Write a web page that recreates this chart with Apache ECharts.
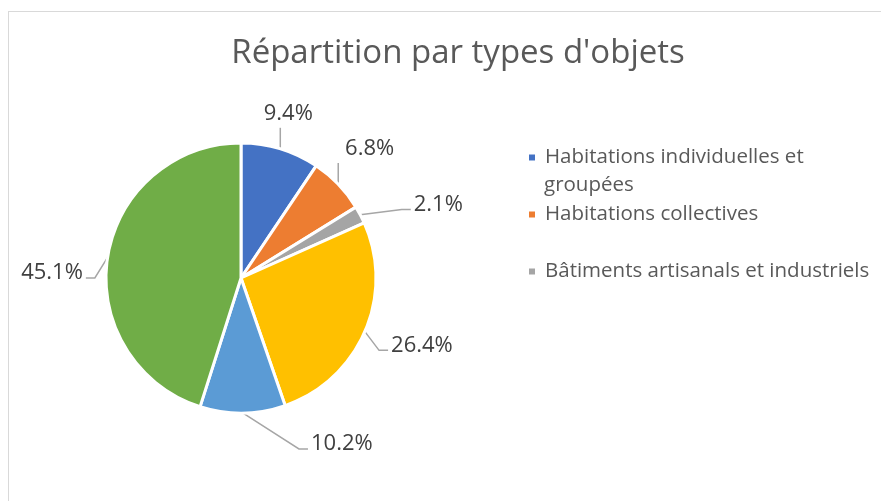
<!DOCTYPE html>
<html>
<head>
<meta charset="utf-8">
<script src="https://cdn.jsdelivr.net/npm/echarts@6/dist/echarts.min.js"></script>
<style>
  html, body { margin: 0; padding: 0; background: #fff; }
  #chart { width: 881px; height: 501px; }
  .frame { position: absolute; left: 8px; top: 11px; width: 900px; height: 520px; border: 1px solid #d9d9d9; pointer-events: none; }
</style>
</head>
<body>
<div id="chart"></div>
<div class="frame"></div>
<script>
// types d'objets
const categories = [
    'Habitations individuelles et groupées',
    'Habitations collectives',
    'Bâtiments artisanals et industriels',
    'Bâtiments publics',
    'Infrastructures',
    'Autres'
]
const values = [9.4, 6.8, 2.1, 26.4, 10.2, 45.1]
const colors = ['#4472c4', '#ed7d31', '#a5a5a5', '#ffc000', '#5b9bd5', '#70ad47']
const legendShown = categories.slice(0, 3)

// decalage des etiquettes (comme Excel) + sens de la ligne de rappel
const labelShift = [[-40, -14], [-26, -20], [17, 0], [-11, 5], [51, 9], [14, 19]]
const labelSide = ['up', 'up', 'right', 'right', 'right', 'left']

const font = 'Open Sans'

const chart = echarts.init(document.getElementById('chart'))

const legendText = { fontFamily: font, fontSize: 20.5, color: '#595959', padding: [0, 0, 0, 4] }

function layoutLabel(p) {
    const i = p.dataIndex
    const dx = labelShift[i][0], dy = labelShift[i][1]
    const r = p.labelRect
    const nx = r.x + dx, ny = r.y + dy
    const start = p.labelLinePoints[0]
    const ly = ny + r.height / 2 + 5
    let mid, end
    if (labelSide[i] === 'up') {
        end = [start[0], ny + r.height + 3]
        mid = end
    } else if (labelSide[i] === 'right') {
        end = [nx - 3, ly]
        mid = [nx - 12, ly]
    } else {
        end = [nx + r.width + 3, ly]
        mid = [nx + r.width + 12, ly]
    }
    return { dx: dx, dy: dy, labelLinePoints: [start, mid, end] }
}

const option = {
    title: {
        text: "Répartition par types d'objets",
        left: 453,
        top: 32,
        textAlign: 'center',
        textStyle: {
            fontFamily: font,
            fontWeight: 'normal',
            fontSize: 33,
            color: '#595959'
        }
    },
    color: colors,
    // legende : seulement les 3 premiers visibles comme dans l'original
    legend: [
        {
            data: [legendShown[0]],
            left: 527, top: 147, padding: 0,
            itemWidth: 8, itemHeight: 8, icon: 'rect',
            formatter: () => 'Habitations individuelles et',
            textStyle: legendText
        },
        {
            data: [legendShown[1]],
            left: 527, top: 204, padding: 0,
            itemWidth: 8, itemHeight: 8, icon: 'rect',
            textStyle: legendText
        },
        {
            data: [legendShown[2]],
            left: 527, top: 261, padding: 0,
            itemWidth: 8, itemHeight: 8, icon: 'rect',
            textStyle: legendText
        }
    ],
    graphic: [
        {
            type: 'text',
            left: 544, top: 175,
            style: { text: 'groupées', font: '20.5px "Open Sans"', fill: '#595959' }
        }
    ],
    series: [
        {
            type: 'pie',
            center: [241, 278],
            radius: 135,
            startAngle: 90,
            clockwise: true,
            data: categories.map((name, i) => ({ name: name, value: values[i] })),
            itemStyle: { borderColor: '#fff', borderWidth: 3 },
            label: {
                show: true,
                position: 'outside',
                formatter: p => p.value.toFixed(1) + '%',
                fontFamily: font,
                fontSize: 22,
                color: '#404040',
                overflow: 'none',
                padding: [0, 2]
            },
            labelLine: {
                show: true,
                length: 22,
                length2: 10,
                lineStyle: { color: '#a6a6a6', width: 1.5 }
            },
            labelLayout: layoutLabel,
            emphasis: { disabled: true }
        }
    ]
}

chart.setOption(option)
</script>
</body>
</html>
